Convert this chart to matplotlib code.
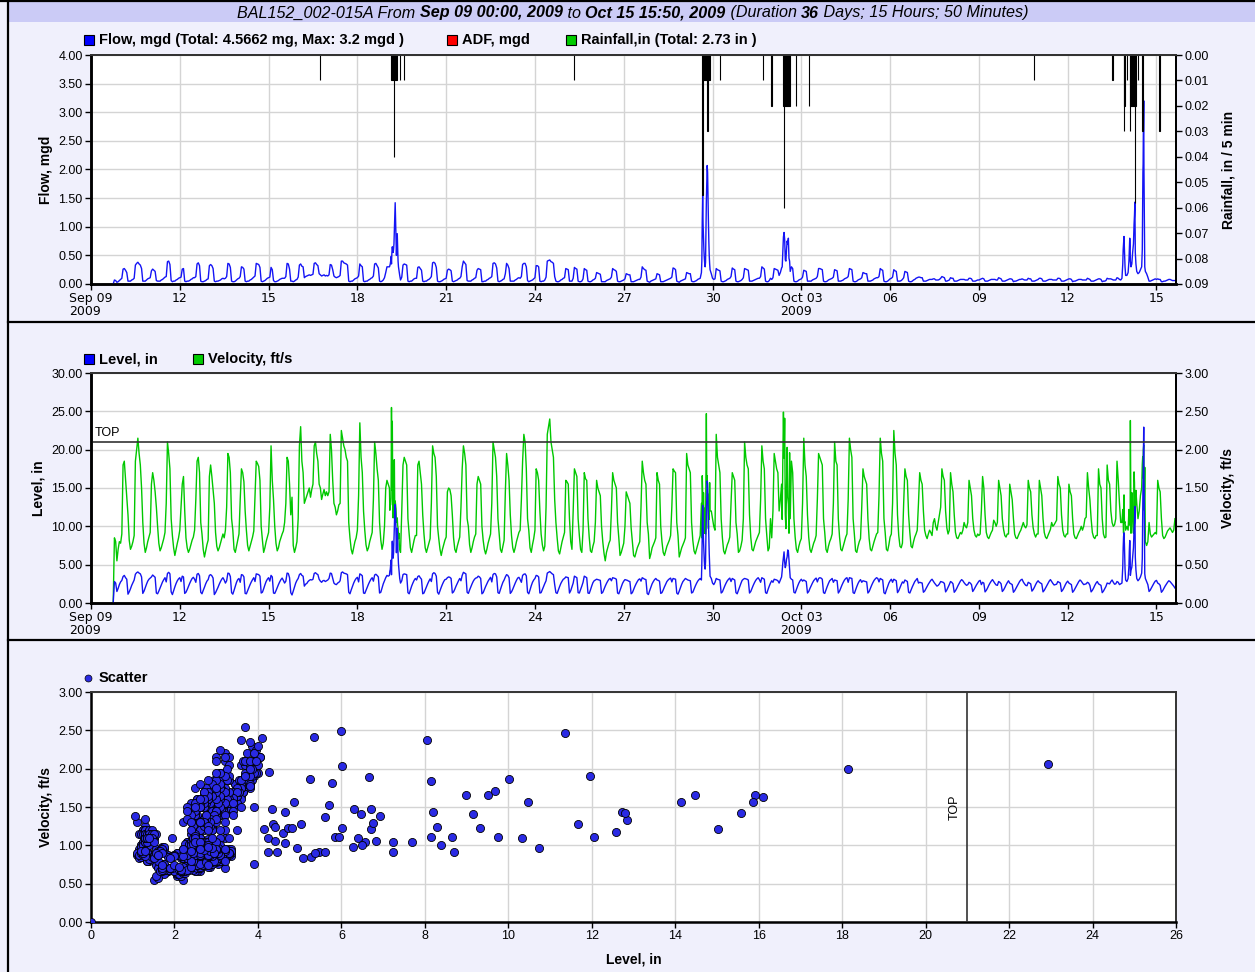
import numpy as np
import matplotlib.pyplot as plt
import matplotlib.dates as mdates
from matplotlib.patches import Rectangle
from matplotlib.lines import Line2D

plt.rcParams['font.family'] = ['Liberation Sans', 'DejaVu Sans']

# ---------------- data ----------------
# hourly samples, first one Sep 09 18:00 (one row per day, hours 00..23)
start = np.datetime64('2009-09-09T18:00')
step = np.timedelta64(1, 'h')

level_in = [
    0.0, 2.8, 2.6, 1.5, 1.9, 2.4,  # Sep 09 18-23h
    2.75, 2.95, 3.45, 3.60, 3.30, 3.10, 1.15, 1.45, 1.85, 2.30, 2.65, 3.00, 3.75, 3.95, 4.05, 3.90, 3.80, 3.40, 1.25, 1.55, 2.00, 2.45, 2.85, 3.10,  # Sep 10
    3.25, 3.40, 3.65, 3.50, 3.35, 1.30, 1.20, 1.55, 1.95, 2.35, 2.75, 3.05, 3.30, 2.75, 3.85, 4.00, 3.80, 1.45, 1.10, 1.60, 2.10, 2.55, 2.90, 3.15,  # Sep 11
    3.30, 2.80, 3.50, 3.40, 1.25, 1.40, 1.75, 2.15, 2.55, 2.90, 3.20, 3.35, 3.10, 2.70, 3.75, 3.85, 3.55, 1.40, 1.20, 1.65, 2.05, 2.50, 2.85, 3.05,  # Sep 12
    3.60, 3.70, 3.55, 3.25, 1.10, 1.35, 1.70, 2.05, 2.45, 2.80, 3.10, 3.30, 3.00, 2.60, 2.90, 3.90, 3.85, 3.45, 1.35, 1.15, 1.65, 2.20, 2.70, 3.05,  # Sep 13
    3.20, 2.70, 3.70, 3.65, 3.40, 1.25, 1.20, 1.60, 2.00, 2.40, 2.75, 3.05, 3.30, 2.80, 3.80, 3.75, 3.70, 3.50, 1.30, 1.40, 1.85, 2.35, 2.80, 3.10,  # Sep 14
    3.30, 2.85, 3.60, 3.40, 1.30, 1.25, 1.60, 2.00, 2.40, 2.75, 3.05, 3.25, 2.95, 2.60, 2.85, 3.90, 3.85, 3.30, 1.35, 1.05, 1.55, 2.10, 2.60, 2.95,  # Sep 15
    3.20, 3.70, 3.85, 3.60, 3.50, 2.20, 2.45, 2.55, 2.80, 2.95, 3.05, 3.00, 3.10, 3.85, 3.95, 3.80, 3.70, 3.10, 2.85, 2.70, 2.90, 2.95, 2.80, 2.90,  # Sep 16
    3.00, 3.20, 3.90, 3.85, 3.20, 2.60, 2.45, 2.40, 2.60, 2.70, 2.90, 3.95, 4.05, 3.90, 3.85, 3.80, 3.70, 1.40, 1.20, 1.70, 2.15, 2.60, 2.95, 3.20,  # Sep 17
    3.35, 2.75, 3.80, 3.70, 3.55, 1.30, 1.25, 1.65, 2.05, 2.45, 2.80, 3.10, 3.30, 2.85, 3.65, 3.75, 3.60, 3.40, 1.30, 1.40, 1.95, 2.50, 2.90, 3.30,  # Sep 18
    3.60, 3.50, 4.0, 5.0, 6.0, 8.0, 12.0, 10.0, 8.0, 5.0, 3.2, 2.60, 2.90, 3.70, 3.80, 3.75, 3.70, 1.35, 1.20, 1.70, 2.20, 2.60, 2.95, 3.20,  # Sep 19
    3.00, 3.45, 3.55, 3.30, 3.10, 1.20, 1.30, 1.70, 2.10, 2.50, 2.85, 3.15, 2.80, 3.80, 3.95, 3.85, 3.50, 1.40, 1.15, 1.60, 2.05, 2.45, 2.80, 3.05,  # Sep 20
    3.10, 3.30, 3.40, 3.35, 3.20, 1.30, 1.45, 1.80, 2.20, 2.55, 2.90, 3.20, 2.90, 3.60, 4.00, 3.90, 3.80, 1.40, 1.25, 1.70, 2.10, 2.50, 2.85, 3.10,  # Sep 21
    3.25, 3.30, 3.50, 3.40, 3.20, 1.20, 1.35, 1.75, 2.15, 2.50, 2.85, 3.10, 3.35, 2.75, 3.70, 3.85, 3.80, 3.40, 1.35, 1.25, 1.75, 2.25, 2.70, 3.00,  # Sep 22
    3.40, 3.70, 3.60, 3.30, 1.25, 1.45, 1.80, 2.20, 2.60, 2.95, 3.25, 3.35, 3.05, 2.70, 3.60, 3.75, 3.80, 3.55, 1.40, 1.20, 1.70, 2.25, 2.70, 3.00,  # Sep 23
    3.20, 3.60, 3.55, 3.40, 1.30, 1.35, 1.75, 2.15, 2.55, 2.90, 3.90, 4.00, 4.10, 3.95, 3.80, 3.70, 2.40, 1.35, 1.25, 1.70, 2.15, 2.55, 2.85, 3.10,  # Sep 24
    3.20, 3.40, 3.35, 3.30, 1.30, 1.60, 2.10, 2.60, 3.50, 3.40, 3.30, 1.35, 1.30, 1.75, 2.20, 2.70, 3.50, 3.40, 3.30, 1.30, 1.25, 1.70, 2.20, 2.65,  # Sep 25
    2.90, 3.00, 3.10, 3.05, 3.00, 2.95, 1.25, 1.40, 1.80, 2.20, 2.55, 2.85, 3.10, 3.20, 2.90, 3.30, 3.25, 3.20, 3.10, 1.30, 1.20, 1.65, 2.10, 2.55,  # Sep 26
    2.85, 3.05, 3.00, 2.95, 2.85, 2.80, 1.20, 1.35, 1.75, 2.15, 2.50, 2.80, 3.05, 3.15, 2.85, 3.30, 3.20, 3.10, 3.05, 1.25, 1.10, 1.60, 2.05, 2.50,  # Sep 27
    2.80, 3.05, 3.20, 3.00, 2.95, 2.85, 1.25, 1.35, 1.70, 2.10, 2.45, 2.80, 3.00, 3.15, 3.25, 2.75, 3.20, 3.15, 3.10, 1.30, 1.15, 1.55, 2.00, 2.45,  # Sep 28
    2.80, 3.00, 3.20, 3.10, 3.00, 2.95, 2.90, 1.30, 1.40, 1.80, 2.20, 2.55, 2.85, 3.05, 3.20, 3.0, 12.0, 6.0, 4.5, 9.0, 15.0, 10.0, 5.0, 3.20,  # Sep 29
    2.60, 2.40, 2.70, 3.20, 3.10, 3.05, 3.00, 1.30, 1.45, 1.85, 2.25, 2.60, 2.90, 3.10, 3.25, 2.80, 3.20, 3.10, 3.00, 1.35, 1.20, 1.65, 2.10, 2.55,  # Sep 30
    2.95, 3.10, 3.20, 3.15, 3.10, 3.00, 1.30, 1.50, 1.90, 2.30, 2.65, 2.95, 3.15, 3.30, 3.05, 2.70, 3.30, 3.20, 3.10, 1.35, 1.25, 1.75, 2.20, 2.60,  # Oct 01
    2.90, 2.70, 3.10, 3.05, 3.00, 2.90, 2.60, 3.00, 4.0, 5.0, 6.0, 5.0, 5.5, 6.5, 5.0, 3.3, 3.10, 3.00, 1.40, 1.30, 1.75, 2.20, 2.60, 2.90,  # Oct 02
    3.10, 2.85, 3.00, 2.90, 2.80, 1.30, 1.50, 1.90, 2.25, 2.60, 2.90, 3.10, 3.25, 2.75, 3.20, 3.30, 3.25, 3.10, 1.35, 1.25, 1.70, 2.15, 2.55, 2.90,  # Oct 03
    3.05, 3.20, 2.70, 3.00, 2.95, 2.90, 1.30, 1.55, 1.95, 2.35, 2.70, 3.00, 3.20, 3.30, 2.70, 3.30, 3.25, 3.20, 1.35, 1.25, 1.70, 2.15, 2.55, 2.85,  # Oct 04
    3.05, 2.70, 2.90, 2.85, 2.80, 2.75, 1.30, 1.50, 1.90, 2.30, 2.65, 2.95, 3.15, 3.30, 3.20, 2.75, 3.20, 3.10, 3.00, 1.35, 1.20, 1.70, 2.15, 2.60,  # Oct 05
    2.90, 3.10, 2.70, 3.10, 3.00, 2.90, 1.35, 1.60, 2.00, 2.40, 2.75, 2.60, 3.00, 2.90, 2.80, 1.40, 1.30, 1.70, 2.10, 2.45, 2.80, 3.00, 3.20, 2.60,  # Oct 06
    2.70, 2.65, 2.60, 1.40, 1.55, 1.85, 2.15, 2.45, 2.70, 2.95, 3.10, 2.85, 2.60, 2.40, 2.20, 2.30, 2.50, 2.80, 2.75, 2.70, 2.55, 1.45, 1.70, 2.05,  # Oct 07
    2.40, 2.80, 2.70, 2.50, 1.40, 1.60, 1.90, 2.25, 2.55, 2.85, 3.05, 2.90, 2.65, 2.45, 2.30, 2.40, 2.70, 2.60, 2.40, 1.50, 1.75, 2.05, 2.35, 2.60,  # Oct 08
    2.85, 2.95, 2.40, 2.70, 2.60, 1.45, 1.65, 1.95, 2.30, 2.60, 2.85, 3.05, 2.80, 2.55, 2.35, 2.30, 2.80, 2.70, 2.50, 1.50, 1.70, 2.00, 2.35, 2.65,  # Oct 09
    2.90, 2.60, 2.50, 2.40, 1.40, 1.60, 1.90, 2.20, 2.50, 2.80, 3.00, 3.10, 2.75, 2.50, 2.30, 2.25, 2.70, 2.60, 2.50, 1.55, 1.75, 2.05, 2.40, 2.70,  # Oct 10
    2.90, 2.70, 2.60, 2.50, 1.45, 1.65, 1.95, 2.25, 2.55, 2.85, 3.05, 2.80, 2.55, 2.35, 2.40, 2.45, 2.80, 2.70, 2.60, 1.50, 1.70, 2.00, 2.35, 2.65,  # Oct 11
    2.85, 2.60, 2.50, 2.40, 1.40, 1.60, 1.90, 2.20, 2.50, 2.80, 3.00, 2.85, 2.60, 2.40, 2.45, 2.50, 2.70, 2.60, 2.30, 1.45, 1.65, 1.95, 2.30, 2.60,  # Oct 12
    2.80, 2.50, 2.40, 2.30, 1.35, 1.55, 1.85, 2.15, 2.60, 2.55, 2.50, 2.80, 3.00, 2.70, 2.45, 2.50, 2.80, 2.70, 2.40, 2.50, 2.6, 5.0, 4.0, 3.0,  # Oct 13
    3.0, 3.0, 7.0, 4.0, 4.0, 6.0, 10.0, 4.0, 3.0, 3.0, 3.0, 3.0, 3.9, 15.0, 15.0, 3.2, 2.8, 2.4, 1.50, 1.70, 2.00, 2.30, 2.60, 2.85,  # Oct 14
    2.95, 2.60, 2.50, 2.30, 1.40, 1.60, 1.90, 2.20, 2.45, 2.70, 2.90, 2.80, 2.60, 2.40, 2.20, 1.95,  # Oct 15 (00-15h)
]

velocity_fts = [
    0.0, .85, .80, .55, .70, .80,
    .78, .90, 1.80, 1.85, 1.62, 1.40, 1.15, .82, .70, .74, .80, .88, 1.85, 2.00, 2.15, 1.95, 1.80, 1.50, 1.05, .78, .66, .72, .80, .86,
    .92, 1.55, 1.70, 1.60, 1.45, 1.25, 1.00, .78, .68, .72, .78, .84, .92, 1.30, 2.10, 1.95, 1.75, 1.10, .88, .72, .62, .70, .78, .85,
    .95, 1.25, 1.55, 1.65, 1.20, .85, .72, .66, .70, .76, .82, .86, .95, 1.35, 1.85, 1.90, 1.70, 1.05, .90, .70, .60, .68, .76, .82,
    1.65, 1.80, 1.65, 1.48, 1.30, .92, .74, .68, .72, .78, .84, .90, .85, .95, 1.25, 1.95, 1.90, 1.70, 1.10, .95, .70, .66, .74, .82,
    .90, 1.35, 1.75, 1.70, 1.58, 1.20, .95, .75, .68, .74, .80, .86, .94, 1.40, 1.85, 1.82, 1.78, 1.60, 1.00, .82, .66, .72, .80, .86,
    .92, 1.25, 2.05, 1.60, 1.35, 1.00, .78, .68, .72, .80, .85, .90, .94, 1.05, 1.30, 1.90, 1.85, 1.55, 1.15, 1.38, .75, .66, .72, .80,
    1.10, 2.05, 2.30, 1.85, 1.70, 1.30, 1.35, 1.40, 1.45, 1.50, 1.38, 1.48, 1.55, 2.05, 2.10, 1.95, 1.85, 1.55, 1.50, 1.35, 1.42, 1.48, 1.40, 1.45,
    1.40, 1.45, 2.20, 2.00, 1.60, 1.30, 1.25, 1.15, 1.20, 1.28, 1.30, 2.25, 2.15, 2.05, 2.00, 1.90, 1.85, 1.05, .85, .70, .64, .72, .80, .85,
    .95, 1.40, 2.35, 1.90, 1.70, 1.20, .95, .76, .68, .72, .80, .86, .92, 1.35, 2.10, 1.95, 1.75, 1.60, 1.05, .82, .70, .78, 1.00, 1.50,
    1.60, 1.55, 1.5, 1.5, 1.5, 1.5, 1.3, 1.2, 1.1, 0.9, .70, .66, 1.20, 1.80, 1.90, 1.85, 1.80, 1.10, .90, .72, .66, .74, .82, .88,
    .88, 1.80, 1.85, 1.70, 1.55, 1.15, .90, .72, .66, .72, .78, .84, 1.30, 2.05, 1.95, 1.90, 1.65, 1.00, .84, .70, .62, .70, .76, .82,
    .86, 1.45, 1.50, 1.48, 1.40, 1.15, .85, .70, .66, .74, .80, .86, 1.25, 1.75, 2.05, 1.95, 1.80, 1.10, 1.00, .76, .66, .72, .80, .86,
    .90, 1.55, 1.65, 1.60, 1.55, 1.00, .82, .70, .64, .70, .78, .84, .90, 1.30, 2.10, 2.00, 1.90, 1.65, 1.10, .90, .70, .66, .74, .82,
    1.45, 1.95, 1.80, 1.60, 1.15, .88, .72, .66, .72, .80, .86, .92, .95, 1.35, 1.85, 2.20, 2.10, 1.75, 1.10, .95, .72, .66, .76, .84,
    .95, 1.75, 1.70, 1.60, 1.20, .90, .76, .68, .74, 1.25, 2.20, 2.30, 2.40, 2.10, 2.00, 1.90, 1.35, 1.05, .85, .68, .64, .72, .80, .86,
    .92, 1.60, 1.58, 1.55, 1.10, .80, .70, 1.20, 1.75, 1.70, 1.65, 1.10, .88, .70, .66, .95, 1.70, 1.62, 1.60, 1.10, .86, .68, .66, .74,
    .80, 1.05, 1.60, 1.50, 1.45, 1.40, 1.00, .80, .65, .55, .66, .72, .78, .82, 1.20, 1.70, 1.60, 1.55, 1.50, 1.05, .85, .62, .66, .72,
    .78, 1.00, 1.45, 1.40, 1.35, 1.30, .98, .80, .62, .60, .66, .72, .76, .80, 1.25, 1.85, 1.70, 1.60, 1.55, 1.05, .90, .58, .64, .72,
    .76, .80, .85, 1.70, 1.60, 1.55, 1.00, .80, .66, .62, .68, .74, .78, .82, .88, 1.25, 1.75, 1.72, 1.70, 1.05, .88, .60, .66, .72,
    .76, .80, .85, 1.95, 1.80, 1.75, 1.70, 1.05, .82, .68, .64, .70, .76, .82, .88, 1.3, 1.4, 1.2, 1.2, 1.6, 1.6, 1.0, 1.2, 1.20,
    1.10, 1.00, .95, 2.20, 1.90, 1.80, 1.70, 1.10, .85, .68, .64, .70, .76, .80, .86, 1.30, 1.70, 1.65, 1.60, 1.05, .90, .66, .68, .74,
    .82, 1.10, 2.10, 1.90, 1.80, 1.75, 1.15, .86, .70, .68, .74, .80, .84, .88, .92, 1.35, 2.05, 1.85, 1.75, 1.10, .88, .68, .72, 1.10,
    .85, 1.20, 1.95, 1.85, 1.75, 1.70, 1.20, 1.35, 1.5, 2.0, 2.0, 1.5, 1.5, 1.5, 1.0, 1.1, 1.85, 1.70, 1.10, .86, .70, .66, .74, .80,
    .84, 1.30, 2.15, 1.80, 1.65, 1.15, .86, .70, .66, .72, .78, .82, .88, 1.35, 1.95, 1.90, 1.85, 1.80, 1.10, .92, .70, .66, .74, .80,
    .84, .90, 1.30, 2.10, 1.85, 1.80, 1.10, .86, .70, .68, .74, .80, .86, .90, 1.35, 2.15, 2.00, 1.90, 1.10, .90, .68, .66, .74, .80,
    .84, 1.25, 1.75, 1.65, 1.60, 1.55, 1.10, .84, .70, .68, .74, .80, .85, .90, .92, 1.40, 2.15, 1.95, 1.85, 1.10, .92, .70, .68, .76,
    .86, .90, 1.30, 2.25, 1.95, 1.80, 1.15, .88, .74, .72, .78, 1.30, 1.75, 1.65, 1.60, 1.15, .92, .74, .72, .80, .86, .90, .95, 1.30,
    1.70, 1.60, 1.55, 1.20, .95, .88, .84, .90, .95, .92, .88, 1.05, 1.10, 1.00, .95, 1.05, 1.15, 1.25, 1.75, 1.65, 1.60, 1.20, .98, .90,
    .95, 1.70, 1.55, 1.45, 1.15, .92, .85, .84, .88, .92, .90, .95, 1.05, 1.00, .98, 1.05, 1.60, 1.50, 1.40, 1.10, .95, .88, .86, .90,
    .88, .90, 1.20, 1.65, 1.50, 1.15, .92, .86, .84, .88, .92, .95, 1.08, 1.05, 1.00, 1.05, 1.60, 1.50, 1.40, 1.10, .96, .88, .86, .90,
    .90, 1.55, 1.45, 1.35, 1.10, .90, .85, .84, .88, .92, .95, 1.00, 1.05, 1.00, .98, 1.02, 1.60, 1.50, 1.45, 1.15, .98, .90, .86, .90,
    .90, 1.60, 1.50, 1.40, 1.10, .92, .86, .84, .88, .92, .96, 1.05, 1.00, 1.02, 1.05, 1.08, 1.65, 1.55, 1.50, 1.15, .95, .88, .86, .90,
    .90, 1.55, 1.45, 1.40, 1.10, .90, .85, .84, .88, .92, .95, 1.00, .95, 1.00, 1.10, 1.12, 1.70, 1.50, 1.35, 1.10, .92, .86, .84, .88,
    .88, 1.75, 1.55, 1.50, 1.10, .90, .85, .86, 1.80, 1.60, 1.55, 1.20, 1.05, 1.00, 1.02, 1.10, 1.85, 1.60, 1.30, 1.05, 1.0, 1.0, 1.0, 1.0,
    1.0, 1.0, 1.0, 1.4, 1.0, 1.0, 1.2, 1.4, 1.3, 1.1, 1.2, 1.4, 1.5, 2.0, 1.2, .80, .75, .80, 1.05, .90, .86, .88, .90, .92,
    .90, 1.60, 1.50, 1.45, 1.10, .88, .84, .86, .90, .94, .96, .98, .95, .92, .95, 1.10,
]

flow_mgd = [
    0.0, .07, .06, .03, .04, .06,
    .08, .10, .26, .27, .24, .20, .05, .05, .05, .07, .08, .10, .33, .36, .38, .35, .33, .27, .05, .05, .05, .07, .09, .10,
    .11, .23, .26, .24, .22, .06, .05, .05, .05, .07, .08, .10, .12, .13, .39, .40, .34, .06, .04, .05, .05, .07, .08, .10,
    .11, .12, .26, .27, .05, .04, .05, .05, .06, .08, .09, .11, .11, .13, .35, .37, .32, .05, .04, .04, .05, .06, .08, .09,
    .32, .34, .32, .27, .05, .04, .05, .05, .06, .07, .09, .10, .09, .10, .13, .36, .35, .29, .05, .04, .04, .05, .07, .09,
    .10, .13, .30, .29, .26, .05, .04, .05, .05, .07, .08, .10, .12, .14, .36, .35, .34, .29, .05, .04, .05, .06, .08, .10,
    .11, .12, .29, .25, .06, .04, .04, .05, .06, .08, .09, .10, .10, .10, .13, .36, .35, .26, .05, .05, .04, .05, .07, .08,
    .12, .33, .35, .31, .30, .11, .13, .14, .15, .16, .15, .16, .17, .36, .37, .34, .32, .18, .16, .14, .15, .16, .14, .15,
    .14, .16, .34, .33, .25, .14, .12, .11, .12, .13, .15, .40, .40, .37, .36, .35, .33, .05, .04, .05, .05, .07, .09, .10,
    .11, .14, .35, .32, .30, .05, .04, .05, .05, .07, .08, .10, .11, .14, .35, .36, .32, .28, .05, .04, .05, .07, .11, .20,
    .30, .30, .3, .4, .5, .7, 1.3, 1.0, .7, .3, .15, .07, .12, .33, .35, .34, .33, .05, .04, .05, .05, .07, .09, .10,
    .10, .29, .30, .27, .24, .05, .04, .05, .05, .07, .08, .10, .13, .37, .38, .36, .29, .05, .04, .04, .05, .06, .08, .09,
    .10, .24, .26, .25, .23, .05, .04, .05, .06, .07, .09, .10, .13, .30, .40, .37, .34, .06, .05, .05, .05, .07, .08, .10,
    .11, .24, .27, .26, .25, .04, .04, .05, .05, .07, .08, .10, .11, .13, .36, .37, .35, .28, .05, .04, .05, .06, .08, .09,
    .18, .36, .33, .27, .05, .05, .05, .05, .07, .08, .10, .11, .10, .13, .34, .36, .36, .30, .06, .04, .05, .06, .07, .09,
    .11, .32, .32, .30, .05, .04, .05, .05, .07, .12, .40, .41, .42, .39, .38, .36, .13, .05, .04, .04, .05, .07, .08, .10,
    .11, .27, .26, .25, .05, .05, .05, .10, .29, .27, .26, .05, .04, .04, .05, .09, .27, .25, .24, .05, .04, .04, .05, .07,
    .08, .10, .20, .19, .18, .17, .04, .04, .04, .04, .06, .07, .08, .09, .12, .27, .25, .24, .22, .05, .04, .04, .05, .06,
    .07, .09, .18, .17, .16, .16, .04, .04, .04, .05, .06, .07, .08, .08, .12, .30, .27, .25, .24, .05, .04, .03, .05, .06,
    .07, .08, .09, .18, .17, .16, .04, .04, .04, .05, .06, .07, .08, .09, .10, .12, .28, .27, .25, .05, .04, .03, .05, .06,
    .07, .08, .09, .20, .19, .18, .18, .05, .04, .04, .05, .06, .08, .09, .10, .2, 1.4, .6, .3, .9, 2.0, 1.1, .4, .18,
    .10, .08, .09, .27, .25, .24, .23, .05, .04, .04, .05, .06, .08, .09, .10, .13, .28, .26, .25, .05, .04, .04, .05, .06,
    .08, .11, .27, .26, .25, .24, .05, .05, .05, .06, .07, .08, .09, .10, .10, .13, .30, .28, .26, .05, .04, .04, .06, .10,
    .08, .11, .27, .26, .25, .24, .15, .20, .3, .6, .8, .5, .6, .8, .4, .22, .30, .27, .05, .04, .04, .05, .07, .08,
    .09, .12, .24, .23, .22, .05, .05, .05, .05, .07, .08, .09, .10, .13, .27, .27, .26, .25, .05, .04, .04, .05, .07, .08,
    .09, .10, .12, .25, .24, .23, .05, .05, .05, .06, .07, .09, .10, .11, .13, .27, .26, .25, .05, .04, .04, .05, .07, .08,
    .09, .11, .20, .19, .18, .18, .05, .05, .05, .06, .07, .09, .10, .11, .11, .13, .27, .25, .24, .05, .04, .04, .05, .07,
    .09, .10, .12, .25, .23, .22, .05, .05, .05, .06, .08, .11, .22, .21, .20, .05, .04, .04, .05, .07, .08, .10, .11, .12,
    .12, .11, .11, .05, .05, .05, .06, .07, .08, .08, .08, .09, .09, .07, .07, .07, .08, .10, .13, .12, .11, .05, .05, .06,
    .07, .11, .10, .10, .05, .05, .05, .06, .07, .08, .08, .08, .08, .07, .07, .07, .10, .10, .09, .05, .05, .05, .06, .07,
    .07, .08, .09, .10, .09, .05, .05, .05, .06, .07, .08, .08, .08, .08, .07, .07, .11, .10, .09, .05, .05, .05, .06, .07,
    .08, .09, .09, .08, .04, .05, .05, .06, .07, .08, .08, .09, .08, .07, .07, .07, .10, .09, .09, .05, .05, .05, .06, .07,
    .08, .10, .10, .09, .05, .05, .05, .06, .07, .08, .08, .08, .07, .07, .07, .07, .10, .10, .09, .05, .05, .05, .06, .07,
    .08, .09, .09, .08, .04, .05, .05, .06, .07, .08, .08, .08, .07, .07, .07, .07, .10, .09, .08, .05, .05, .05, .06, .07,
    .08, .09, .09, .08, .04, .05, .05, .06, .10, .09, .09, .09, .08, .07, .07, .07, .11, .10, .08, .07, .1, .4, .3, .2,
    .15, .2, .6, .3, .35, .55, 1.2, .35, .22, .18, .2, .25, .3, 2.5, 1.6, .22, .18, .12, .05, .05, .06, .07, .08, .09,
    .08, .09, .08, .08, .04, .04, .05, .05, .06, .07, .08, .08, .07, .06, .06, .06,
]

# storm periods, read at finer resolution (they replace the hourly samples)
storm_windows = [('09-19 02:00', '09-19 10:20'), ('09-29 15:00', '09-29 22:00'),
                 ('10-02 08:00', '10-02 15:00'), ('10-13 20:00', '10-14 17:00')]
storm_times = [
    '09-19 02:00', '09-19 02:20', '09-19 02:40', '09-19 03:00', '09-19 03:20', '09-19 03:40',
    '09-19 04:00', '09-19 04:20', '09-19 04:40', '09-19 05:00', '09-19 05:20', '09-19 05:40',
    '09-19 06:00', '09-19 06:20', '09-19 06:40', '09-19 07:00', '09-19 07:20', '09-19 07:40',
    '09-19 08:00', '09-19 08:20', '09-19 08:40', '09-19 09:00', '09-19 09:20', '09-19 09:40',
    '09-19 10:00', '09-19 10:20',
    '09-29 15:00', '09-29 15:20', '09-29 15:40', '09-29 16:00', '09-29 16:20', '09-29 16:40',
    '09-29 17:00', '09-29 17:20', '09-29 17:40', '09-29 18:00', '09-29 18:20', '09-29 18:40',
    '09-29 19:00', '09-29 19:20', '09-29 19:40', '09-29 20:00', '09-29 20:20', '09-29 20:40',
    '09-29 21:00', '09-29 21:20', '09-29 21:40', '09-29 22:00',
    '10-02 08:00', '10-02 08:30', '10-02 09:00', '10-02 09:30', '10-02 10:00', '10-02 10:30',
    '10-02 11:00', '10-02 11:30', '10-02 12:00', '10-02 12:30', '10-02 13:00', '10-02 13:30',
    '10-02 14:00', '10-02 14:30', '10-02 15:00',
    '10-13 20:00', '10-13 20:40', '10-13 21:00', '10-13 21:20', '10-13 21:40', '10-13 22:00',
    '10-13 22:30', '10-13 23:00', '10-14 00:00', '10-14 01:00', '10-14 01:40', '10-14 02:00',
    '10-14 02:20', '10-14 02:40', '10-14 02:50', '10-14 03:20', '10-14 04:00', '10-14 04:40',
    '10-14 05:20', '10-14 05:50', '10-14 06:10', '10-14 06:30', '10-14 06:50', '10-14 07:20',
    '10-14 08:00', '10-14 09:00', '10-14 10:00', '10-14 11:00', '10-14 12:00', '10-14 12:30',
    '10-14 12:50', '10-14 13:00', '10-14 13:10', '10-14 13:20', '10-14 13:40', '10-14 13:50',
    '10-14 14:00', '10-14 14:30', '10-14 15:00', '10-14 16:00', '10-14 17:00',
]
storm_level = [
    3.6, 4.15, 4.35, 5.03, 5.61, 3.69, 6.30, 8.06, 6.71, 5.85, 6.46, 8.15, 10.01,
    12.06, 12.85, 11.66, 9.33, 6.56, 8.66, 9.76, 8.39, 6.29, 5.09, 4.45, 3.9, 3.2,
    3.0, 5.27, 9.52, 12.73, 10.34, 8.20, 6.70, 5.47, 4.66, 4.42, 5.37, 8.98, 11.35,
    14.14, 15.91, 15.57, 12.80, 10.74, 8.30, 6.41, 4.87, 3.5,
    3.4, 4.23, 5.25, 5.98, 6.67, 5.34, 4.61, 4.94, 5.70, 6.01, 6.92, 6.76, 5.61, 4.27, 3.3,
    2.6, 4.72, 7.23, 8.70, 9.15, 7.70, 4.42, 3.0, 2.8, 3.2, 4.81, 6.83, 8.15, 6.50,
    3.6, 4.25, 4.66, 5.94, 7.23, 9.67, 10.46, 12.58, 6.01, 4.33, 3.2, 2.9, 3.1, 3.4,
    3.9, 5.78, 11.96, 14.47, 16.10, 18.14, 22.94, 15.87, 15.02, 3.8, 3.2, 2.8, 2.4,
]
storm_velocity = [
    1.50, 1.21, 1.28, 1.28, 1.37, 2.55, 1.47, 2.37, 1.47, 1.11, 1.41, 1.84, 1.87,
    1.11, 1.33, 1.28, 1.23, 1.05, 1.11, 1.11, 1.01, 0.98, 0.84, 0.91, 0.76, 0.70,
    1.30, 0.85, 1.66, 1.44, 1.09, 1.44, 1.21, 0.91, 1.03, 1.24, 0.90, 1.66, 2.47,
    1.57, 1.66, 1.42, 1.42, 0.97, 1.24, 1.09, 1.57, 1.20,
    1.55, 1.09, 1.87, 2.49, 1.89, 2.41, 1.16, 0.97, 1.53, 2.03, 1.38, 1.29, 0.91, 1.96, 1.10,
    1.05, 1.22, 1.05, 0.91, 1.41, 1.05, 1.06, 0.95, 1.00, 0.95, 1.22, 1.06, 1.11, 1.01,
    2.38, 0.91, 1.44, 1.11, 0.91, 1.71, 1.57, 1.18, 1.23, 1.47, 1.30, 1.10, 1.20, 1.40,
    1.50, 1.81, 1.91, 1.66, 1.63, 2.00, 2.06, 1.57, 1.21, 1.77, 0.80, 0.75, 0.80,
]
storm_flow = [
    0.30, 0.32, 0.35, 0.40, 0.48, 0.35, 0.55, 0.65, 0.58, 0.55, 0.60, 0.70, 0.95,
    1.20, 1.42, 1.10, 0.85, 0.50, 0.70, 0.88, 0.65, 0.40, 0.30, 0.25, 0.20, 0.15,
    0.20, 0.40, 1.10, 1.55, 1.05, 0.80, 0.60, 0.45, 0.35, 0.30, 0.38, 0.95, 1.45,
    1.80, 2.07, 1.95, 1.50, 1.10, 0.75, 0.50, 0.35, 0.25,
    0.28, 0.30, 0.55, 0.82, 0.90, 0.78, 0.42, 0.40, 0.60, 0.75, 0.70, 0.80, 0.45, 0.40, 0.22,
    0.10, 0.35, 0.60, 0.72, 0.83, 0.60, 0.30, 0.15, 0.15, 0.20, 0.40, 0.62, 0.80, 0.65,
    0.40, 0.30, 0.35, 0.55, 0.70, 1.05, 1.20, 1.43, 0.55, 0.35, 0.22, 0.18, 0.20, 0.25,
    0.30, 0.60, 1.50, 1.95, 2.10, 2.60, 3.20, 2.05, 1.65, 0.30, 0.22, 0.18, 0.12,
]

# rainfall, in per 5 min: (start, end, depth)
rain_start = ['09-16 17:45', '09-19 03:00', '09-19 05:45', '09-19 10:30', '09-19 13:40',
              '09-25 07:40', '09-29 15:50', '09-29 16:15', '09-29 19:55', '09-30 06:00',
              '10-01 16:50', '10-01 23:45', '10-02 09:00', '10-02 10:05', '10-02 19:40',
              '10-03 05:50', '10-10 20:40', '10-13 11:40', '10-13 21:40', '10-13 22:00',
              '10-14 00:00', '10-14 02:25', '10-14 02:40', '10-14 06:30', '10-14 09:00',
              '10-14 12:00', '10-15 02:25']
rain_end = ['09-16 17:50', '09-19 08:00', '09-19 05:50', '09-19 10:35', '09-19 13:45',
            '09-25 07:45', '09-29 15:55', '09-29 21:50', '09-29 20:00', '09-30 06:05',
            '10-01 16:55', '10-01 23:50', '10-02 14:40', '10-02 10:10', '10-02 19:45',
            '10-03 05:55', '10-10 20:45', '10-13 12:40', '10-13 21:45', '10-13 22:40',
            '10-14 00:05', '10-14 02:30', '10-14 07:40', '10-14 06:35', '10-14 09:05',
            '10-14 13:15', '10-15 02:30']
rain_depth = [0.01, 0.01, 0.04, 0.01, 0.01,
              0.01, 0.055, 0.01, 0.03, 0.01,
              0.01, 0.02, 0.02, 0.06, 0.02,
              0.02, 0.01, 0.01, 0.03, 0.02,
              0.01, 0.03, 0.02, 0.058, 0.01,
              0.03, 0.03]

date_ticks = ['09-09', '09-12', '09-15', '09-18', '09-21', '09-24', '09-27',
              '09-30', '10-03', '10-06', '10-09', '10-12', '10-15']
date_labels = ['Sep 09\n2009', '12', '15', '18', '21', '24', '27',
               '30', 'Oct 03\n2009', '06', '09', '12', '15']
TOP = 21.0

assert len(level_in) == len(velocity_fts) == len(flow_mgd), \
    (len(level_in), len(velocity_fts), len(flow_mgd))
assert len(storm_times) == len(storm_level) == len(storm_velocity) == len(storm_flow)


def when(s):
    return np.datetime64('2009-' + s.replace(' ', 'T'))


# merge hourly samples with the storm detail
base_t = start + np.arange(len(level_in)) * step
keep = np.ones(len(base_t), bool)
for a, b in storm_windows:
    keep &= ~((base_t >= when(a)) & (base_t <= when(b)))
t = np.concatenate([base_t[keep], np.array([when(s) for s in storm_times])])
order = np.argsort(t)
t = t[order]
level = np.concatenate([np.array(level_in)[keep], storm_level])[order]
vel = np.concatenate([np.array(velocity_fts)[keep], storm_velocity])[order]
flow = np.concatenate([np.array(flow_mgd)[keep], storm_flow])[order]
tn = mdates.date2num(t)

# ---------------- figure ----------------
W, H = 1255, 972
BG = '#f0f0fc'
fig = plt.figure(figsize=(W / 100, H / 100), dpi=100, facecolor=BG)


def fx(x):
    return x / W


def fy(y):
    return 1 - y / H


def box(x0, y0, x1, y1):
    return [fx(x0), fy(y1), fx(x1) - fx(x0), fy(y0) - fy(y1)]


# title band and frame lines
fig.add_artist(Rectangle((fx(8), fy(22)), 1, fy(1) - fy(22), transform=fig.transFigure,
                         facecolor='#cbcbf6', edgecolor='none'))
for x0, y0, x1, y1 in [(0, 1, W, 1), (8, 0, 8, H), (8, 322, W, 322), (8, 640, W, 640)]:
    fig.add_artist(Line2D([fx(x0), fx(x1)], [fy(y0), fy(y1)], transform=fig.transFigure,
                          color='black', lw=1.6))

title_parts = [('BAL152_002-015A From ', 'normal'), ('Sep 09 00:00, 2009', 'bold'),
               (' to ', 'normal'), ('Oct 15 15:50, 2009', 'bold'),
               (' (Duration ', 'normal'), ('36', 'bold'),
               (' Days; 15 Hours; 50 Minutes)', 'normal')]
renderer = fig.canvas.get_renderer()
pieces = [fig.text(0, fy(13), s, fontsize=11.6, fontstyle='italic', fontweight=w,
                   va='center', ha='left') for s, w in title_parts]
widths = [p.get_window_extent(renderer).width for p in pieces]
x = 633 - sum(widths) / 2
for p, w in zip(pieces, widths):
    p.set_x(fx(x))
    x += w


def legend_item(x, y, color, label, marker='s'):
    if marker == 's':
        fig.add_artist(Rectangle((fx(x), fy(y + 5)), fx(10), fy(0) - fy(10),
                                 transform=fig.transFigure, facecolor=color,
                                 edgecolor='black', lw=0.8))
    else:
        fig.add_artist(Line2D([fx(x + 4)], [fy(y)], transform=fig.transFigure, marker='o',
                              markersize=5, markerfacecolor=color,
                              markeredgecolor='black', markeredgewidth=0.5))
    fig.text(fx(x + 15), fy(y), label, fontsize=10.5, fontweight='bold',
             va='center', ha='left')


GRID = '#d4d4d4'
TICKFONT = 9


def style(ax):
    for side in ['left', 'bottom']:
        ax.spines[side].set_linewidth(1.8)
        ax.spines[side].set_color('black')
    for side in ['top', 'right']:
        ax.spines[side].set_linewidth(1.4)
        ax.spines[side].set_color('#333333')
    ax.tick_params(direction='out', length=4, width=1, pad=2, labelsize=TICKFONT)


def time_axis(ax):
    ax.set_xlim(mdates.date2num(np.datetime64('2009-09-09T00:00')),
                mdates.date2num(np.datetime64('2009-10-15T15:50')))
    ax.set_xticks(mdates.date2num(np.array([when(d + ' 00:00') for d in date_ticks])))
    ax.set_xticklabels(date_labels, fontsize=6.5, family='DejaVu Sans', linespacing=0.95,
                       multialignment='left')


# ---- panel 1: flow + rainfall ----
ax1 = fig.add_axes(box(91, 55, 1176, 284))
ax1.set_facecolor('white')
ax1.plot(tn, flow, color='#1414f5', lw=1.0, zorder=3)
ax1.set_ylim(0, 4)
ax1.set_yticks(np.arange(0, 4.01, 0.5))
ax1.set_yticklabels([f'{v:.2f}' for v in np.arange(0, 4.01, 0.5)])
time_axis(ax1)
ax1.grid(True, color=GRID, lw=1)
ax1.set_axisbelow(True)
ax1.set_ylabel('Flow, mgd', fontsize=10, fontweight='bold', labelpad=4)
style(ax1)

ax1r = ax1.twinx()
rs = mdates.date2num(np.array([when(s) for s in rain_start]))
re_ = mdates.date2num(np.array([when(s) for s in rain_end]))
ax1r.bar(rs, rain_depth, width=re_ - rs, align='edge', color='black',
         edgecolor='black', linewidth=0.8)
ax1r.set_ylim(0.09, 0)
ax1r.set_yticks(np.arange(0, 0.0901, 0.01))
ax1r.set_yticklabels([f'{v:.2f}' for v in np.arange(0, 0.0901, 0.01)])
ax1r.set_ylabel('Rainfall, in / 5 min', fontsize=10, fontweight='bold', labelpad=9)
style(ax1r)
ax1r.spines['right'].set_color('black')

legend_item(84, 40, '#0000ff', 'Flow, mgd (Total: 4.5662 mg, Max: 3.2 mgd )')
legend_item(447, 40, '#ff0000', 'ADF, mgd')
legend_item(566, 40, '#00cc00', 'Rainfall,in (Total: 2.73 in )')

# ---- panel 2: level + velocity ----
ax2 = fig.add_axes(box(91, 373, 1176, 603))
ax2v = ax2.twinx()
ax2v.set_zorder(ax2.get_zorder() - 1)
ax2v.patch.set_visible(True)
ax2v.patch.set_facecolor('white')
ax2.patch.set_visible(False)

ax2v.plot(tn, vel, color='#00c800', lw=1.0)
ax2v.set_ylim(0, 3)
ax2v.set_yticks(np.arange(0, 3.01, 0.5))
ax2v.set_yticklabels([f'{v:.2f}' for v in np.arange(0, 3.01, 0.5)])
ax2v.set_ylabel('Velocity, ft/s', fontsize=10, fontweight='bold', labelpad=9)
ax2v.grid(True, color=GRID, lw=1)
style(ax2v)

ax2.plot(tn, level, color='#1414f0', lw=1.0)
ax2.axhline(TOP, color='#333333', lw=1.2)
ax2.text(mdates.date2num(np.datetime64('2009-09-09T03:00')), TOP + 0.4, 'TOP',
         fontsize=9, va='bottom', ha='left')
ax2.set_ylim(0, 30)
ax2.set_yticks(np.arange(0, 30.1, 5))
ax2.set_yticklabels([f'{v:.2f}' for v in np.arange(0, 30.1, 5)])
ax2.set_ylabel('Level, in', fontsize=10, fontweight='bold', labelpad=4)
time_axis(ax2)
time_axis(ax2v)
style(ax2)
ax2.spines['right'].set_color('black')

legend_item(84, 359, '#0000ff', 'Level, in')
legend_item(193, 359, '#00cc00', 'Velocity, ft/s')

# ---- panel 3: scatter ----
ax3 = fig.add_axes(box(91, 692, 1176, 922))
ax3.set_facecolor('white')
ax3.scatter(level, vel, s=34, facecolor='#2a2ae4', edgecolor='black', linewidths=0.6,
            zorder=3)
ax3.axvline(TOP, color='#333333', lw=1.2, zorder=4)
ax3.text(TOP - 0.15, 1.5, 'TOP', rotation=90, fontsize=9, ha='right', va='center')
ax3.set_xlim(0, 26)
ax3.set_ylim(0, 3)
ax3.set_xticks(np.arange(0, 26.1, 2))
ax3.set_xticklabels([f'{v:d}' for v in range(0, 27, 2)])
ax3.set_yticks(np.arange(0, 3.01, 0.5))
ax3.set_yticklabels([f'{v:.2f}' for v in np.arange(0, 3.01, 0.5)])
ax3.grid(True, color=GRID, lw=1)
ax3.set_axisbelow(True)
ax3.set_xlabel('Level, in', fontsize=10, fontweight='bold', labelpad=7)
ax3.set_ylabel('Velocity, ft/s', fontsize=10, fontweight='bold', labelpad=4)
style(ax3)

legend_item(84, 678, '#2a2ae4', 'Scatter', marker='o')

fig.savefig('out.png', dpi=100, facecolor=BG)
